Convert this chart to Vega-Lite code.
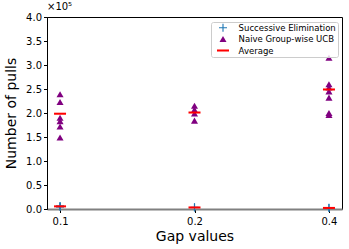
{
  "$schema": "https://vega.github.io/schema/vega-lite/v6.json",
  "width": 295,
  "height": 192,
  "autosize": {"type": "none"},
  "padding": {"left": 47, "top": 17, "right": 7, "bottom": 40},
  "title": {"text": "×10⁵", "anchor": "start", "frame": "group", "fontSize": 10, "fontWeight": "normal", "offset": 0, "color": "#000000"},
  "config": {
    "font": "DejaVu Sans",
    "view": {"stroke": "#000000", "strokeWidth": 1},
    "axis": {"labelColor": "#000000", "titleColor": "#000000", "tickColor": "#000000", "domainColor": "#000000", "labelFontSize": 10, "titleFontSize": 14, "titleFontWeight": "normal", "tickSize": 3.5, "labelPadding": 2, "grid": false},
    "legend": {"title": null, "orient": "top-right", "offset": 4.5, "zindex": 1, "fillColor": "rgba(255,255,255,0.8)", "strokeColor": "#cccccc", "cornerRadius": 2, "padding": 1.5, "labelFontSize": 8.5, "labelColor": "#000000", "rowPadding": 1, "labelOffset": 9.6, "symbolOffset": 4.5, "symbolOpacity": 1, "symbolStrokeWidth": 0}
  },
  "data": {"values": [
    {"gap": "0.1", "series": "Successive Elimination", "pulls": 6500},
    {"gap": "0.1", "series": "Successive Elimination", "pulls": 5000},
    {"gap": "0.1", "series": "Successive Elimination", "pulls": 4500},
    {"gap": "0.2", "series": "Successive Elimination", "pulls": 3500},
    {"gap": "0.2", "series": "Successive Elimination", "pulls": 3000},
    {"gap": "0.4", "series": "Successive Elimination", "pulls": 2500},
    {"gap": "0.4", "series": "Successive Elimination", "pulls": 2000},
    {"gap": "0.1", "series": "Naive Group-wise UCB", "pulls": 239000},
    {"gap": "0.1", "series": "Naive Group-wise UCB", "pulls": 223000},
    {"gap": "0.1", "series": "Naive Group-wise UCB", "pulls": 190000},
    {"gap": "0.1", "series": "Naive Group-wise UCB", "pulls": 183000},
    {"gap": "0.1", "series": "Naive Group-wise UCB", "pulls": 172000},
    {"gap": "0.1", "series": "Naive Group-wise UCB", "pulls": 149000},
    {"gap": "0.2", "series": "Naive Group-wise UCB", "pulls": 215000},
    {"gap": "0.2", "series": "Naive Group-wise UCB", "pulls": 207000},
    {"gap": "0.2", "series": "Naive Group-wise UCB", "pulls": 199000},
    {"gap": "0.2", "series": "Naive Group-wise UCB", "pulls": 184000},
    {"gap": "0.4", "series": "Naive Group-wise UCB", "pulls": 315000},
    {"gap": "0.4", "series": "Naive Group-wise UCB", "pulls": 260000},
    {"gap": "0.4", "series": "Naive Group-wise UCB", "pulls": 253000},
    {"gap": "0.4", "series": "Naive Group-wise UCB", "pulls": 245000},
    {"gap": "0.4", "series": "Naive Group-wise UCB", "pulls": 232000},
    {"gap": "0.4", "series": "Naive Group-wise UCB", "pulls": 200000},
    {"gap": "0.4", "series": "Naive Group-wise UCB", "pulls": 196000},
    {"gap": "0.1", "series": "Average", "pulls": 5500},
    {"gap": "0.2", "series": "Average", "pulls": 3200},
    {"gap": "0.4", "series": "Average", "pulls": 2200},
    {"gap": "0.1", "series": "Average", "pulls": 198500},
    {"gap": "0.2", "series": "Average", "pulls": 201000},
    {"gap": "0.4", "series": "Average", "pulls": 249000}
  ]},
  "mark": {"type": "point", "filled": true, "opacity": 1, "strokeWidth": 0},
  "encoding": {
    "x": {"field": "gap", "type": "ordinal", "sort": ["0.1", "0.2", "0.4"], "scale": {"type": "point", "padding": 0.097},
      "axis": {"title": "Gap values", "labelAngle": 0, "domainColor": "#808080", "domainWidth": 2, "labelPadding": 4, "titlePadding": 3}},
    "y": {"field": "pulls", "type": "quantitative", "scale": {"domain": [0, 400000], "nice": false},
      "axis": {"title": "Number of pulls", "values": [0, 50000, 100000, 150000, 200000, 250000, 300000, 350000, 400000], "labelExpr": "format(datum.value / 100000, '.1f')", "titlePadding": 7}},
    "color": {"field": "series", "type": "nominal", "scale": {"domain": ["Successive Elimination", "Naive Group-wise UCB", "Average"], "range": ["#1f77b4", "#800080", "#ff0000"]}},
    "shape": {"field": "series", "type": "nominal", "scale": {"domain": ["Successive Elimination", "Naive Group-wise UCB", "Average"], "range": ["M-1,-0.14H-0.14V-1H0.14V-0.14H1V0.14H0.14V1H-0.14V0.14H-1Z", "M0,-0.6L0.69,0.6L-0.69,0.6Z", "M-1,-0.17H1V0.17H-1Z"]}},
    "size": {"field": "series", "type": "nominal", "scale": {"type": "point", "padding": 0, "domain": ["Successive Elimination", "Naive Group-wise UCB", "Average"], "range": [64, 144]}}
  }
}
